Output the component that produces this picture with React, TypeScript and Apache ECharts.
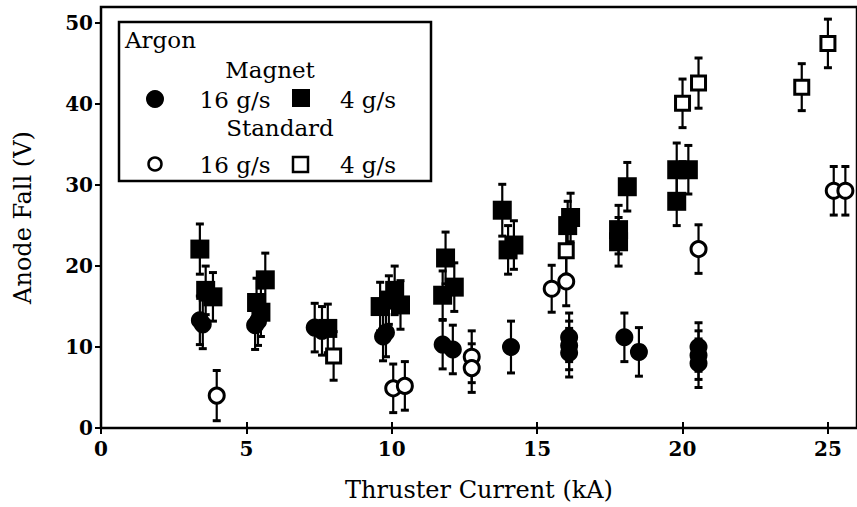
import React, { useEffect, useRef } from "react";
import * as echarts from "echarts";

// ---- Data ----
// Magnet, 16 g/s (filled circles)
const magnet16X = [3.4, 3.5, 5.3, 5.4, 7.35, 7.6, 9.7, 9.8, 11.75, 12.1, 14.1, 16.1, 16.1, 16.1, 18.0, 18.5, 20.55, 20.55, 20.55];
const magnet16Y = [13.3, 12.8, 12.7, 13.2, 12.4, 12.0, 11.3, 11.8, 10.3, 9.7, 10.0, 11.2, 10.2, 9.3, 11.2, 9.4, 10.0, 9.0, 8.0];
const magnet16Err = [3, 3, 3, 3, 3, 3, 3, 3, 3, 3, 3.2, 3, 3, 3, 3, 3, 3, 3, 3];
// Magnet, 4 g/s (filled squares)
const magnet4X = [3.4, 3.6, 3.85, 5.35, 5.5, 5.65, 7.8, 9.6, 9.9, 10.1, 10.3, 11.75, 11.85, 12.15, 13.8, 14.0, 14.2, 16.05, 16.15, 17.8, 17.8, 18.1, 19.8, 19.8, 20.2];
const magnet4Y = [22.1, 17.0, 16.2, 15.5, 14.3, 18.3, 12.3, 15.0, 15.8, 17.0, 15.2, 16.4, 21.0, 17.4, 26.9, 22.0, 22.6, 25.0, 26.0, 24.5, 23.0, 29.8, 28.0, 31.9, 31.9];
const magnet4Err = [3.1, 3, 3, 3, 3, 3.3, 3, 3, 3, 3, 3, 3, 3.2, 3, 3.2, 3, 3, 3, 3, 3, 3, 3, 3, 3.3, 3];
// Standard, 16 g/s (open circles)
const standard16X = [3.98, 10.05, 10.45, 12.75, 12.75, 15.5, 16.0, 20.55, 25.2, 25.6];
const standard16Y = [4.0, 4.9, 5.2, 8.8, 7.4, 17.2, 18.1, 22.1, 29.3, 29.3];
const standard16Err = [3.1, 3, 3, 3.2, 3, 2.9, 3, 3, 3, 3];
// Standard, 4 g/s (open squares)
const standard4X = [8.0, 16.0, 20.0, 20.55, 24.1, 25.0];
const standard4Y = [8.9, 21.9, 40.1, 42.6, 42.1, 47.5];
const standard4Err = [3, 3, 3, 3.1, 2.9, 3];

// Axis settings
const xMin = 0, xMax = 26, xStep = 5;
const yMin = 0, yMax = 52, yStep = 10;

const FONT = "DejaVu Serif";

function zip(xs: number[], ys: number[], es?: number[]) {
  return xs.map((x, i) => (es ? [x, ys[i], es[i]] : [x, ys[i]]));
}

function errItem(params: any, api: any) {
  const x = api.value(0);
  const y = api.value(1);
  const e = api.value(2);
  const hi = api.coord([x, y + e]);
  const lo = api.coord([x, y - e]);
  const cap = 4;
  const style = { stroke: "#000", lineWidth: 2.2 };
  const capStyle = { stroke: "#000", lineWidth: 3 };
  return {
    type: "group",
    children: [
      { type: "line", shape: { x1: hi[0], y1: hi[1], x2: lo[0], y2: lo[1] }, style },
      { type: "line", shape: { x1: hi[0] - cap, y1: hi[1], x2: hi[0] + cap, y2: hi[1] }, style: capStyle },
      { type: "line", shape: { x1: lo[0] - cap, y1: lo[1], x2: lo[0] + cap, y2: lo[1] }, style: capStyle },
    ],
  };
}

export default function App() {
  const ref = useRef<HTMLDivElement>(null);
  useEffect(() => {
    if (!ref.current) return;
    const chart = echarts.init(ref.current, null, { renderer: "svg" });
    const tickLabel = { color: "#000", fontFamily: FONT, fontWeight: "bold", fontSize: 20 };
    const errSeries = (xs: number[], ys: number[], es: number[]) => ({
      type: "custom",
      renderItem: errItem,
      data: zip(xs, ys, es),
      encode: { x: 0, y: 1 },
      z: 1,
      silent: true,
    });
    const option: any = {
      animation: false,
      backgroundColor: "#fff",
      grid: {
        left: 101,
        top: 7,
        right: -3,
        bottom: 79,
        show: true,
        borderColor: "#000",
        borderWidth: 2.5,
        backgroundColor: "transparent",
      },
      xAxis: [
        {
          type: "value",
          min: xMin,
          max: xMax,
          interval: xStep,
          position: "bottom",
          axisLine: { show: false },
          axisTick: { show: true, length: 6, lineStyle: { color: "#000", width: 2 } },
          splitLine: { show: false },
          axisLabel: { ...tickLabel, margin: 11, showMaxLabel: false },
          name: "Thruster Current (kA)",
          nameLocation: "middle",
          nameGap: 50,
          nameTextStyle: { color: "#000", fontFamily: FONT, fontSize: 24 },
        },
        {
          type: "value",
          min: xMin,
          max: xMax,
          interval: xStep,
          position: "top",
          offset: -421,
          axisLine: { show: false },
          axisTick: { show: true, length: 6, lineStyle: { color: "#000", width: 2 } },
          splitLine: { show: false },
          axisLabel: { show: false },
        },
      ],
      yAxis: [
        {
          type: "value",
          min: yMin,
          max: yMax,
          interval: yStep,
          position: "left",
          axisLine: { show: false },
          axisTick: { show: true, length: 6, lineStyle: { color: "#000", width: 2 } },
          splitLine: { show: false },
          axisLabel: { ...tickLabel, margin: 8, showMaxLabel: false },
          name: "Anode Fall (V)",
          nameLocation: "middle",
          nameRotate: 90,
          nameGap: 66,
          nameTextStyle: { color: "#000", fontFamily: FONT, fontSize: 24 },
        },
        {
          type: "value",
          min: yMin,
          max: yMax,
          interval: yStep,
          position: "right",
          offset: -759,
          axisLine: { show: false },
          axisTick: { show: true, length: 6, lineStyle: { color: "#000", width: 2 } },
          splitLine: { show: false },
          axisLabel: { show: false },
        },
      ],
      series: [
        errSeries(magnet16X, magnet16Y, magnet16Err),
        errSeries(magnet4X, magnet4Y, magnet4Err),
        errSeries(standard16X, standard16Y, standard16Err),
        errSeries(standard4X, standard4Y, standard4Err),
        {
          name: "Magnet 16 g/s",
          type: "scatter",
          symbol: "circle",
          symbolSize: 18,
          itemStyle: { color: "#000", opacity: 1 },
          data: zip(magnet16X, magnet16Y),
          z: 3,
        },
        {
          name: "Magnet 4 g/s",
          type: "scatter",
          symbol: "rect",
          symbolSize: 19,
          itemStyle: { color: "#000", opacity: 1 },
          data: zip(magnet4X, magnet4Y),
          z: 3,
        },
        {
          name: "Standard 16 g/s",
          type: "scatter",
          symbol: "circle",
          symbolSize: 15,
          itemStyle: { color: "#fff", borderColor: "#000", borderWidth: 3, opacity: 1 },
          data: zip(standard16X, standard16Y),
          z: 4,
        },
        {
          name: "Standard 4 g/s",
          type: "scatter",
          symbol: "rect",
          symbolSize: 14,
          itemStyle: { color: "#fff", borderColor: "#000", borderWidth: 3, opacity: 1 },
          data: zip(standard4X, standard4Y),
          z: 4,
        },
      ],
      graphic: [
        {
          type: "group",
          z: 100,
          children: [
            { type: "rect", shape: { x: 119, y: 22, width: 312, height: 159 }, style: { fill: "#fff", stroke: "#000", lineWidth: 2.5 } },
            { type: "text", x: 125, y: 40, style: { text: "Argon", font: `23px "${FONT}"`, fill: "#000", textAlign: "left", textVerticalAlign: "middle" } },
            { type: "text", x: 270, y: 70, style: { text: "Magnet", font: `23px "${FONT}"`, fill: "#000", textAlign: "center", textVerticalAlign: "middle" } },
            { type: "circle", shape: { cx: 155, cy: 99, r: 9 }, style: { fill: "#000" } },
            { type: "text", x: 235, y: 100, style: { text: "16 g/s", font: `23px "${FONT}"`, fill: "#000", textAlign: "center", textVerticalAlign: "middle" } },
            { type: "rect", shape: { x: 292, y: 89, width: 18, height: 18 }, style: { fill: "#000" } },
            { type: "text", x: 368, y: 100, style: { text: "4 g/s", font: `23px "${FONT}"`, fill: "#000", textAlign: "center", textVerticalAlign: "middle" } },
            { type: "text", x: 280, y: 128, style: { text: "Standard", font: `23px "${FONT}"`, fill: "#000", textAlign: "center", textVerticalAlign: "middle" } },
            { type: "circle", shape: { cx: 155, cy: 164, r: 6.5 }, style: { fill: "#fff", stroke: "#000", lineWidth: 2.5 } },
            { type: "text", x: 235, y: 165, style: { text: "16 g/s", font: `23px "${FONT}"`, fill: "#000", textAlign: "center", textVerticalAlign: "middle" } },
            { type: "rect", shape: { x: 293, y: 157, width: 15, height: 15 }, style: { fill: "#fff", stroke: "#000", lineWidth: 2.5 } },
            { type: "text", x: 368, y: 165, style: { text: "4 g/s", font: `23px "${FONT}"`, fill: "#000", textAlign: "center", textVerticalAlign: "middle" } },
          ],
        },
      ],
    };
    chart.setOption(option);
    return () => chart.dispose();
  }, []);
  return (
    <div
      ref={ref}
      style={{ position: "fixed", left: 0, top: 0, width: 857, height: 507, background: "#fff" }}
    />
  );
}
